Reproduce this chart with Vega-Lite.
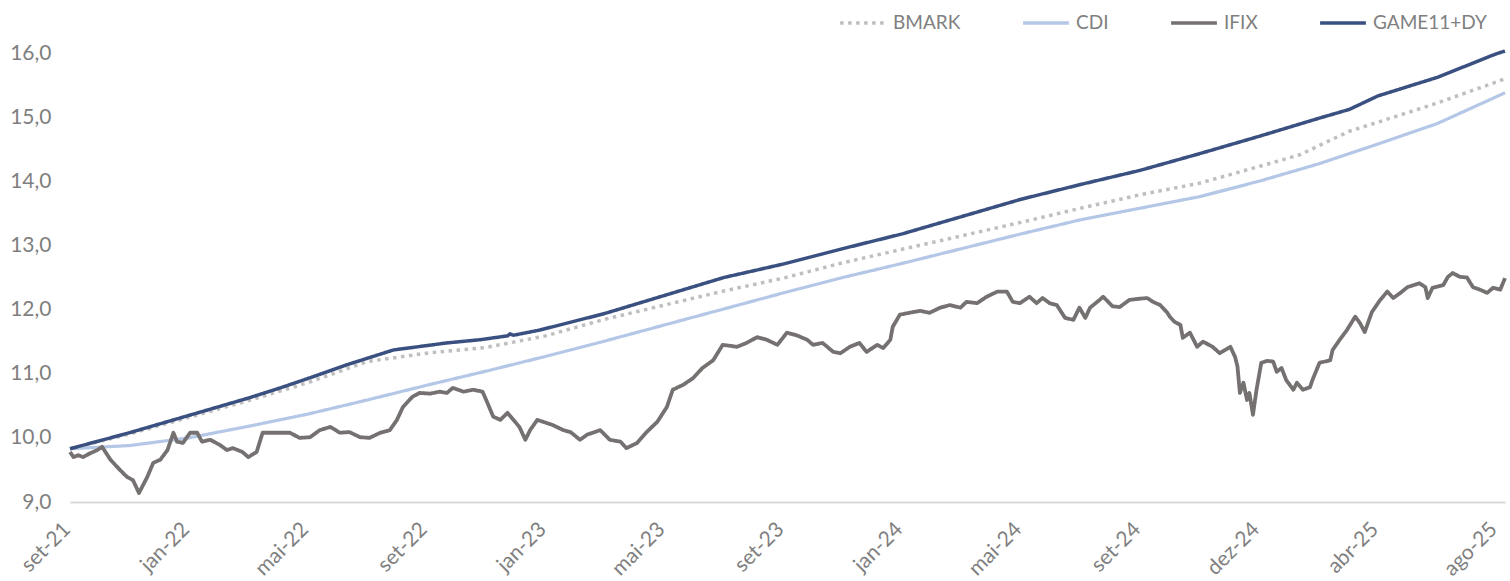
{
  "$schema": "https://vega.github.io/schema/vega-lite/v6.json",
  "autosize": {"type": "none"},
  "width": 1435,
  "height": 449,
  "padding": {"left": 70, "top": 53, "right": 5, "bottom": 79},
  "background": "white",
  "config": {
    "font": "Lato",
    "view": {"stroke": null},
    "legend": {"padding": 0}
  },
  "data": {"values": [
    {"s":"GAME11+DY","n":0,"v":9.83},{"s":"GAME11+DY","n":50,"v":10.08},{"s":"GAME11+DY","n":100,"v":10.35},{"s":"GAME11+DY","n":150,"v":10.62},{"s":"GAME11+DY","n":177,"v":10.78},{"s":"GAME11+DY","n":204,"v":10.95},{"s":"GAME11+DY","n":233,"v":11.14},{"s":"GAME11+DY","n":272,"v":11.37},{"s":"GAME11+DY","n":317,"v":11.48},{"s":"GAME11+DY","n":345,"v":11.53},{"s":"GAME11+DY","n":368,"v":11.59},{"s":"GAME11+DY","n":370,"v":11.62},{"s":"GAME11+DY","n":373,"v":11.6},{"s":"GAME11+DY","n":395,"v":11.68},{"s":"GAME11+DY","n":450,"v":11.94},{"s":"GAME11+DY","n":500,"v":12.22},{"s":"GAME11+DY","n":550,"v":12.5},{"s":"GAME11+DY","n":600,"v":12.71},{"s":"GAME11+DY","n":650,"v":12.95},{"s":"GAME11+DY","n":700,"v":13.18},{"s":"GAME11+DY","n":750,"v":13.45},{"s":"GAME11+DY","n":800,"v":13.72},{"s":"GAME11+DY","n":850,"v":13.95},{"s":"GAME11+DY","n":900,"v":14.17},{"s":"GAME11+DY","n":950,"v":14.43},{"s":"GAME11+DY","n":1000,"v":14.7},{"s":"GAME11+DY","n":1050,"v":14.98},{"s":"GAME11+DY","n":1076,"v":15.12},{"s":"GAME11+DY","n":1100,"v":15.33},{"s":"GAME11+DY","n":1150,"v":15.62},{"s":"GAME11+DY","n":1200,"v":15.99},{"s":"GAME11+DY","n":1207,"v":16.03},
    {"s":"BMARK","n":0,"v":9.83},{"s":"BMARK","n":50,"v":10.06},{"s":"BMARK","n":100,"v":10.32},{"s":"BMARK","n":150,"v":10.58},{"s":"BMARK","n":200,"v":10.86},{"s":"BMARK","n":250,"v":11.19},{"s":"BMARK","n":300,"v":11.32},{"s":"BMARK","n":350,"v":11.41},{"s":"BMARK","n":400,"v":11.59},{"s":"BMARK","n":450,"v":11.85},{"s":"BMARK","n":500,"v":12.07},{"s":"BMARK","n":550,"v":12.29},{"s":"BMARK","n":600,"v":12.49},{"s":"BMARK","n":650,"v":12.73},{"s":"BMARK","n":700,"v":12.94},{"s":"BMARK","n":750,"v":13.15},{"s":"BMARK","n":800,"v":13.36},{"s":"BMARK","n":850,"v":13.58},{"s":"BMARK","n":900,"v":13.79},{"s":"BMARK","n":950,"v":13.97},{"s":"BMARK","n":1000,"v":14.23},{"s":"BMARK","n":1034,"v":14.41},{"s":"BMARK","n":1076,"v":14.78},{"s":"BMARK","n":1100,"v":14.92},{"s":"BMARK","n":1150,"v":15.22},{"s":"BMARK","n":1200,"v":15.55},{"s":"BMARK","n":1207,"v":15.6},
    {"s":"CDI","n":0,"v":9.83},{"s":"CDI","n":50,"v":9.88},{"s":"CDI","n":100,"v":10.0},{"s":"CDI","n":150,"v":10.18},{"s":"CDI","n":200,"v":10.37},{"s":"CDI","n":250,"v":10.59},{"s":"CDI","n":300,"v":10.82},{"s":"CDI","n":350,"v":11.04},{"s":"CDI","n":400,"v":11.27},{"s":"CDI","n":450,"v":11.51},{"s":"CDI","n":500,"v":11.76},{"s":"CDI","n":550,"v":12.01},{"s":"CDI","n":600,"v":12.26},{"s":"CDI","n":650,"v":12.5},{"s":"CDI","n":700,"v":12.72},{"s":"CDI","n":750,"v":12.95},{"s":"CDI","n":800,"v":13.18},{"s":"CDI","n":850,"v":13.4},{"s":"CDI","n":900,"v":13.58},{"s":"CDI","n":950,"v":13.76},{"s":"CDI","n":1000,"v":14.0},{"s":"CDI","n":1050,"v":14.27},{"s":"CDI","n":1100,"v":14.58},{"s":"CDI","n":1150,"v":14.9},{"s":"CDI","n":1200,"v":15.32},{"s":"CDI","n":1207,"v":15.38},
    {"s":"IFIX","n":0,"v":9.78},{"s":"IFIX","n":3,"v":9.7},{"s":"IFIX","n":7,"v":9.73},{"s":"IFIX","n":11,"v":9.7},{"s":"IFIX","n":17,"v":9.76},{"s":"IFIX","n":23,"v":9.81},{"s":"IFIX","n":27,"v":9.86},{"s":"IFIX","n":34,"v":9.66},{"s":"IFIX","n":42,"v":9.5},{"s":"IFIX","n":48,"v":9.39},{"s":"IFIX","n":53,"v":9.34},{"s":"IFIX","n":58,"v":9.14},{"s":"IFIX","n":65,"v":9.39},{"s":"IFIX","n":70,"v":9.61},{"s":"IFIX","n":76,"v":9.66},{"s":"IFIX","n":82,"v":9.81},{"s":"IFIX","n":87,"v":10.08},{"s":"IFIX","n":90,"v":9.94},{"s":"IFIX","n":95,"v":9.92},{"s":"IFIX","n":101,"v":10.08},{"s":"IFIX","n":107,"v":10.08},{"s":"IFIX","n":111,"v":9.94},{"s":"IFIX","n":118,"v":9.97},{"s":"IFIX","n":126,"v":9.89},{"s":"IFIX","n":132,"v":9.81},{"s":"IFIX","n":137,"v":9.84},{"s":"IFIX","n":145,"v":9.78},{"s":"IFIX","n":150,"v":9.7},{"s":"IFIX","n":157,"v":9.78},{"s":"IFIX","n":162,"v":10.08},{"s":"IFIX","n":168,"v":10.08},{"s":"IFIX","n":177,"v":10.08},{"s":"IFIX","n":185,"v":10.08},{"s":"IFIX","n":193,"v":10.0},{"s":"IFIX","n":202,"v":10.01},{"s":"IFIX","n":210,"v":10.12},{"s":"IFIX","n":219,"v":10.17},{"s":"IFIX","n":227,"v":10.08},{"s":"IFIX","n":235,"v":10.09},{"s":"IFIX","n":244,"v":10.01},{"s":"IFIX","n":252,"v":10.0},{"s":"IFIX","n":261,"v":10.08},{"s":"IFIX","n":269,"v":10.12},{"s":"IFIX","n":275,"v":10.28},{"s":"IFIX","n":280,"v":10.48},{"s":"IFIX","n":288,"v":10.64},{"s":"IFIX","n":294,"v":10.7},{"s":"IFIX","n":303,"v":10.69},{"s":"IFIX","n":311,"v":10.72},{"s":"IFIX","n":317,"v":10.7},{"s":"IFIX","n":322,"v":10.78},{"s":"IFIX","n":331,"v":10.72},{"s":"IFIX","n":339,"v":10.75},{"s":"IFIX","n":347,"v":10.72},{"s":"IFIX","n":351,"v":10.55},{"s":"IFIX","n":356,"v":10.33},{"s":"IFIX","n":362,"v":10.28},{"s":"IFIX","n":368,"v":10.39},{"s":"IFIX","n":373,"v":10.28},{"s":"IFIX","n":378,"v":10.17},{"s":"IFIX","n":383,"v":9.97},{"s":"IFIX","n":387,"v":10.12},{"s":"IFIX","n":393,"v":10.28},{"s":"IFIX","n":398,"v":10.25},{"s":"IFIX","n":406,"v":10.2},{"s":"IFIX","n":415,"v":10.12},{"s":"IFIX","n":421,"v":10.09},{"s":"IFIX","n":429,"v":9.97},{"s":"IFIX","n":435,"v":10.05},{"s":"IFIX","n":446,"v":10.12},{"s":"IFIX","n":454,"v":9.97},{"s":"IFIX","n":463,"v":9.94},{"s":"IFIX","n":468,"v":9.84},{"s":"IFIX","n":477,"v":9.92},{"s":"IFIX","n":485,"v":10.09},{"s":"IFIX","n":494,"v":10.25},{"s":"IFIX","n":502,"v":10.48},{"s":"IFIX","n":507,"v":10.75},{"s":"IFIX","n":516,"v":10.83},{"s":"IFIX","n":524,"v":10.93},{"s":"IFIX","n":532,"v":11.09},{"s":"IFIX","n":541,"v":11.21},{"s":"IFIX","n":549,"v":11.45},{"s":"IFIX","n":561,"v":11.42},{"s":"IFIX","n":569,"v":11.48},{"s":"IFIX","n":578,"v":11.57},{"s":"IFIX","n":586,"v":11.53},{"s":"IFIX","n":595,"v":11.45},{"s":"IFIX","n":603,"v":11.64},{"s":"IFIX","n":611,"v":11.6},{"s":"IFIX","n":620,"v":11.53},{"s":"IFIX","n":625,"v":11.45},{"s":"IFIX","n":633,"v":11.48},{"s":"IFIX","n":642,"v":11.34},{"s":"IFIX","n":648,"v":11.32},{"s":"IFIX","n":656,"v":11.42},{"s":"IFIX","n":664,"v":11.48},{"s":"IFIX","n":670,"v":11.34},{"s":"IFIX","n":679,"v":11.45},{"s":"IFIX","n":684,"v":11.4},{"s":"IFIX","n":690,"v":11.53},{"s":"IFIX","n":692,"v":11.73},{"s":"IFIX","n":698,"v":11.92},{"s":"IFIX","n":706,"v":11.95},{"s":"IFIX","n":715,"v":11.98},{"s":"IFIX","n":723,"v":11.95},{"s":"IFIX","n":732,"v":12.03},{"s":"IFIX","n":740,"v":12.07},{"s":"IFIX","n":749,"v":12.03},{"s":"IFIX","n":754,"v":12.12},{"s":"IFIX","n":763,"v":12.1},{"s":"IFIX","n":771,"v":12.2},{"s":"IFIX","n":780,"v":12.28},{"s":"IFIX","n":788,"v":12.28},{"s":"IFIX","n":793,"v":12.12},{"s":"IFIX","n":799,"v":12.1},{"s":"IFIX","n":807,"v":12.2},{"s":"IFIX","n":813,"v":12.1},{"s":"IFIX","n":818,"v":12.18},{"s":"IFIX","n":824,"v":12.1},{"s":"IFIX","n":830,"v":12.07},{"s":"IFIX","n":837,"v":11.87},{"s":"IFIX","n":844,"v":11.84},{"s":"IFIX","n":849,"v":12.03},{"s":"IFIX","n":854,"v":11.87},{"s":"IFIX","n":858,"v":12.03},{"s":"IFIX","n":866,"v":12.15},{"s":"IFIX","n":869,"v":12.2},{"s":"IFIX","n":877,"v":12.05},{"s":"IFIX","n":883,"v":12.04},{"s":"IFIX","n":891,"v":12.15},{"s":"IFIX","n":900,"v":12.17},{"s":"IFIX","n":906,"v":12.18},{"s":"IFIX","n":911,"v":12.12},{"s":"IFIX","n":917,"v":12.07},{"s":"IFIX","n":923,"v":11.95},{"s":"IFIX","n":925,"v":11.89},{"s":"IFIX","n":929,"v":11.81},{"s":"IFIX","n":934,"v":11.76},{"s":"IFIX","n":936,"v":11.56},{"s":"IFIX","n":942,"v":11.64},{"s":"IFIX","n":948,"v":11.42},{"s":"IFIX","n":953,"v":11.5},{"s":"IFIX","n":961,"v":11.42},{"s":"IFIX","n":967,"v":11.32},{"s":"IFIX","n":976,"v":11.42},{"s":"IFIX","n":980,"v":11.26},{"s":"IFIX","n":982,"v":11.11},{"s":"IFIX","n":984,"v":10.7},{"s":"IFIX","n":987,"v":10.86},{"s":"IFIX","n":990,"v":10.59},{"s":"IFIX","n":992,"v":10.7},{"s":"IFIX","n":995,"v":10.36},{"s":"IFIX","n":998,"v":10.75},{"s":"IFIX","n":1002,"v":11.17},{"s":"IFIX","n":1007,"v":11.2},{"s":"IFIX","n":1012,"v":11.19},{"s":"IFIX","n":1015,"v":11.03},{"s":"IFIX","n":1019,"v":11.09},{"s":"IFIX","n":1023,"v":10.9},{"s":"IFIX","n":1029,"v":10.75},{"s":"IFIX","n":1032,"v":10.86},{"s":"IFIX","n":1037,"v":10.75},{"s":"IFIX","n":1043,"v":10.79},{"s":"IFIX","n":1045,"v":10.9},{"s":"IFIX","n":1051,"v":11.17},{"s":"IFIX","n":1060,"v":11.21},{"s":"IFIX","n":1062,"v":11.37},{"s":"IFIX","n":1068,"v":11.53},{"s":"IFIX","n":1074,"v":11.68},{"s":"IFIX","n":1081,"v":11.89},{"s":"IFIX","n":1085,"v":11.79},{"s":"IFIX","n":1089,"v":11.65},{"s":"IFIX","n":1095,"v":11.96},{"s":"IFIX","n":1102,"v":12.15},{"s":"IFIX","n":1108,"v":12.28},{"s":"IFIX","n":1113,"v":12.18},{"s":"IFIX","n":1119,"v":12.26},{"s":"IFIX","n":1125,"v":12.35},{"s":"IFIX","n":1135,"v":12.41},{"s":"IFIX","n":1140,"v":12.35},{"s":"IFIX","n":1142,"v":12.18},{"s":"IFIX","n":1146,"v":12.34},{"s":"IFIX","n":1155,"v":12.38},{"s":"IFIX","n":1159,"v":12.51},{"s":"IFIX","n":1163,"v":12.57},{"s":"IFIX","n":1169,"v":12.51},{"s":"IFIX","n":1175,"v":12.5},{"s":"IFIX","n":1180,"v":12.35},{"s":"IFIX","n":1186,"v":12.31},{"s":"IFIX","n":1192,"v":12.26},{"s":"IFIX","n":1197,"v":12.34},{"s":"IFIX","n":1203,"v":12.31},{"s":"IFIX","n":1207,"v":12.49}
  ]},
  "encoding": {
    "x": {
      "field": "n", "type": "quantitative",
      "scale": {"domain": [0, 1207], "nice": false, "zero": false},
      "axis": {
        "title": null, "grid": false, "ticks": false, "tickSize": 0,
        "values": [0,100,200,300,400,500,600,700,800,900,1000,1100,1200],
        "labelExpr": "['set-21','jan-22','mai-22','set-22','jan-23','mai-23','set-23','jan-24','mai-24','set-24','dez-24','abr-25','ago-25'][round(datum.value/100)]",
        "labelAngle": -45, "labelAlign": "right", "labelBaseline": "middle",
        "labelFontSize": 21, "labelColor": "#7f7f7f", "labelPadding": 24, "labelOffset": -3,
        "labelOverlap": false, "labelFlush": false, "labelBound": false,
        "domainColor": "#d9d9d9", "domainWidth": 2
      }
    },
    "y": {
      "field": "v", "type": "quantitative",
      "scale": {"domain": [9, 16], "nice": false, "zero": false},
      "axis": {
        "title": null, "grid": false, "ticks": false, "tickSize": 0, "domain": false,
        "values": [9,10,11,12,13,14,15,16],
        "labelExpr": "replace(format(datum.value, '.1f'), '.', ',')",
        "labelFontSize": 21, "labelColor": "#7f7f7f", "labelPadding": 19
      }
    },
    "color": {
      "field": "s", "type": "nominal",
      "scale": {"domain": ["BMARK","CDI","IFIX","GAME11+DY"], "range": ["#bfbfbf","#b4c7e7","#767171","#3a5080"]},
      "legend": {
        "title": null, "orient": "none", "direction": "horizontal",
        "legendX": 768, "legendY": -55,
        "symbolType": "stroke", "symbolSize": 2100, "symbolStrokeWidth": 3.5,
        "labelFontSize": 19, "labelColor": "#7f7f7f", "labelOffset": 5,
        "columnPadding": 55
      }
    },
    "strokeDash": {
      "field": "s", "type": "nominal",
      "scale": {"domain": ["BMARK","CDI","IFIX","GAME11+DY"], "range": [[3.5,4.5],[1,0],[1,0],[1,0]]}
    }
  },
  "layer": [
    {"transform": [{"filter": "datum.s == 'CDI'"}], "mark": {"type": "line", "strokeWidth": 3.2}},
    {"transform": [{"filter": "datum.s == 'BMARK'"}], "mark": {"type": "line", "strokeWidth": 3.5}},
    {"transform": [{"filter": "datum.s == 'IFIX'"}], "mark": {"type": "line", "strokeWidth": 3.8, "strokeJoin": "round"}},
    {"transform": [{"filter": "datum.s == 'GAME11+DY'"}], "mark": {"type": "line", "strokeWidth": 3.5}}
  ]
}
